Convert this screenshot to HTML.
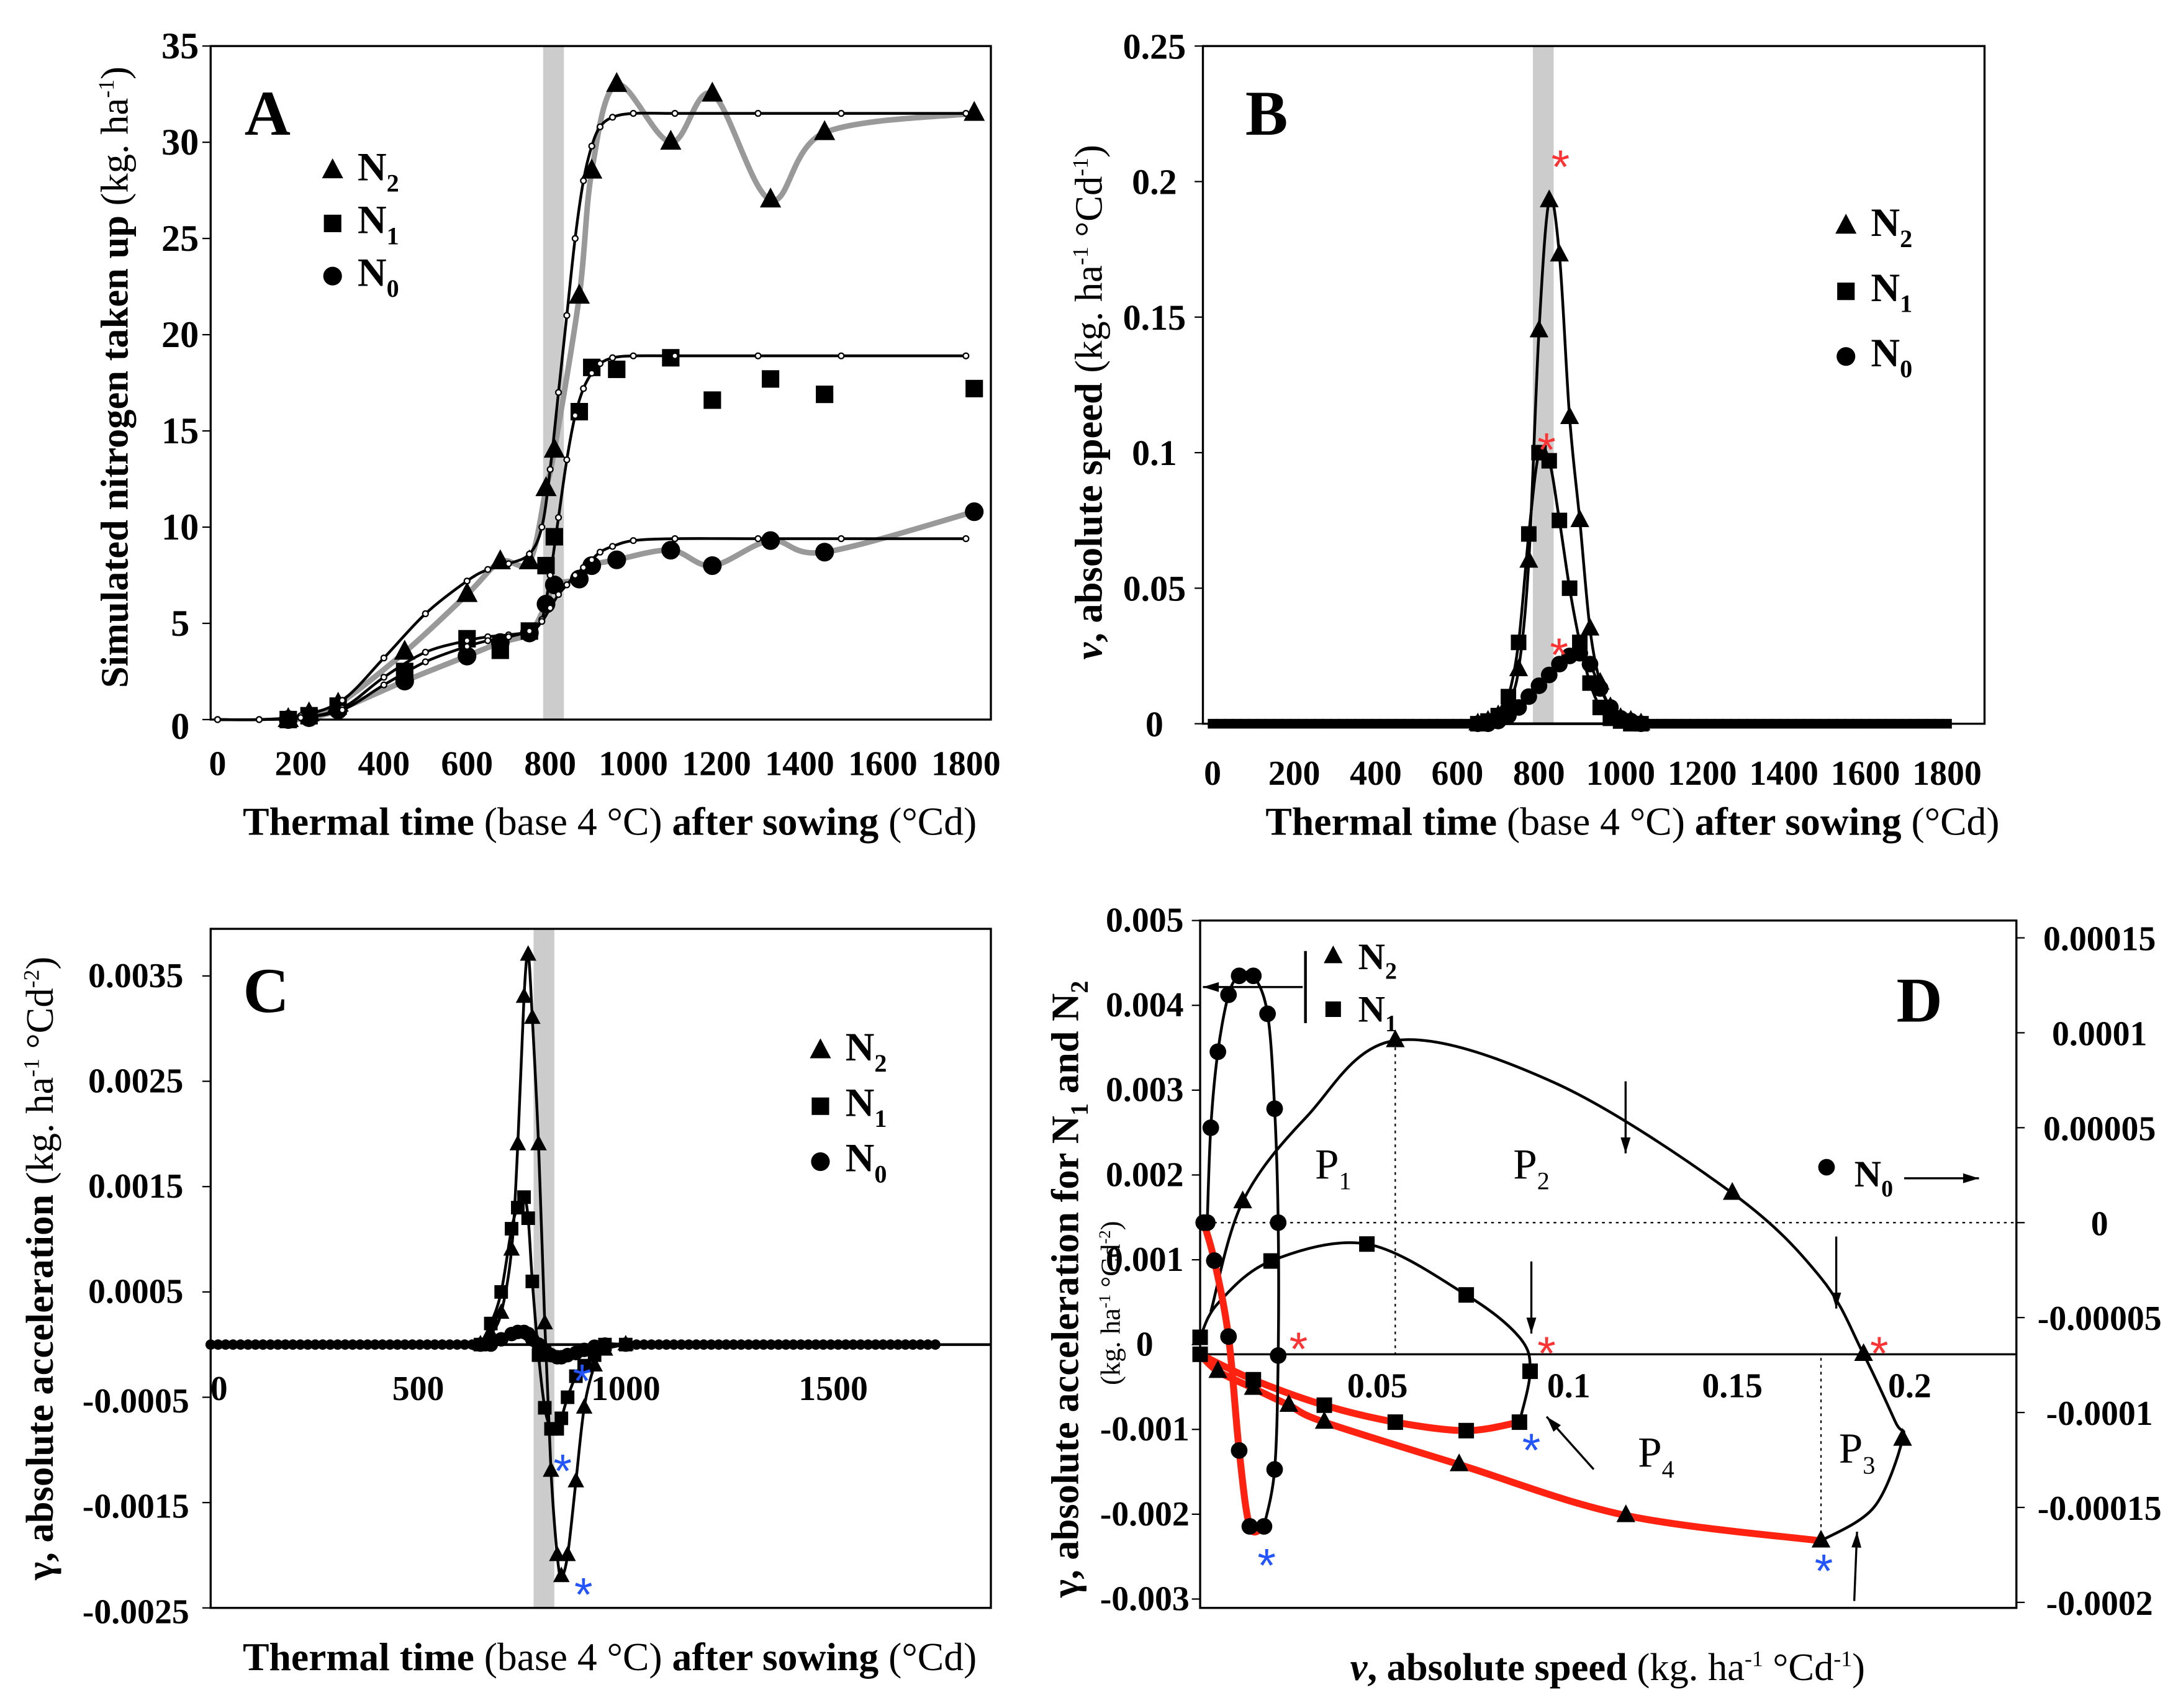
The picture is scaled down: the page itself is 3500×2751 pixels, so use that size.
<!DOCTYPE html>
<html><head><meta charset="utf-8"><style>
html,body{margin:0;padding:0;background:#fff}
svg{display:block}
text{font-family:"Liberation Serif",serif;font-weight:bold;fill:#000}
</style></head><body>
<svg id="fig" width="3500" height="2751" viewBox="0 0 1568 1232" xmlns="http://www.w3.org/2000/svg">
<g id="A"></g>
<g id="B"></g>
<g id="C"></g>
<g id="D"></g>
</svg>
<script>
// ---------- Panel A data ----------
const aObsT = [170,220,290,450,600,680,750,790,810,870,900,960,1090,1190,1330,1460,1820];
const aObsN2 = [0,0.3,0.8,3.5,6.5,8.2,8.2,12,14,22,28.5,33,30,32.5,27,30.5,31.5];
const aObsN1 = [0,0.2,0.7,2.5,4.2,3.6,4.6,8,9.5,16,18.3,18.2,18.8,16.6,17.7,16.9,17.2];
const aObsN0 = [0,0.1,0.5,2,3.3,4,4.5,6,7,7.3,8,8.3,8.8,8,9.3,8.7,10.8];
const aFitT = [0,100,200,300,400,500,600,650,700,750,780,800,820,840,860,880,900,920,950,1000,1100,1300,1500,1800];
const aFitN2 = [0,0,0.2,1,3.2,5.5,7.2,7.8,8.1,8.6,10,13,17,21,25,28,29.8,30.8,31.3,31.5,31.5,31.5,31.5,31.5];
const aFitN1 = [0,0,0.1,0.6,2.2,3.5,4.1,4.3,4.4,4.6,5.2,7.5,10.5,13.5,15.8,17.2,18,18.5,18.8,18.9,18.9,18.9,18.9,18.9];
const aFitN0 = [0,0,0.1,0.5,1.8,3,3.8,4.1,4.3,4.6,5.1,5.8,6.5,7,7.5,7.9,8.3,8.7,9.0,9.3,9.4,9.4,9.4,9.4];
const aYTicks = [0,5,10,15,20,25,30,35];
const aXTicks = [0,200,400,600,800,1000,1200,1400,1600,1800];
// ---------- Panel B data ----------
const bT = [650,675,700,725,750,775,800,825,850,875,900,925,950,975,1000,1025,1050];
const bN2 = [0,0.001,0.003,0.008,0.02,0.06,0.145,0.193,0.173,0.113,0.075,0.035,0.015,0.006,0.002,0.001,0];
const bN1 = [0,0.001,0.003,0.01,0.03,0.07,0.1,0.097,0.075,0.05,0.03,0.015,0.006,0.002,0.001,0,0];
const bN0 = [0,0,0.001,0.003,0.006,0.01,0.014,0.018,0.022,0.025,0.026,0.022,0.013,0.006,0.002,0.001,0];
const bYTicks = [0,0.05,0.1,0.15,0.2,0.25];
// ---------- Panel C data ----------
const cT = [650,675,700,725,740,755,765,775,790,805,820,835,845,860,880,900,925,950,1000];
const cN2 = [0,0.0001,0.0003,0.0009,0.0019,0.0033,0.0037,0.0031,0.0019,0.0002,-0.0012,-0.002,-0.0022,-0.002,-0.0013,-0.0006,-0.0002,-0.00005,0];
const cN1 = [0,0.0002,0.0005,0.0011,0.0013,0.0014,0.0012,0.0006,-0.0001,-0.0006,-0.0008,-0.0008,-0.0007,-0.0005,-0.0003,-0.0002,-0.0001,0,0];
const cN0 = [0,0,0.00005,0.0001,0.00012,0.00012,0.0001,0.00005,0,-0.00005,-0.0001,-0.00012,-0.00012,-0.0001,-0.00008,-0.00005,-0.00002,0,0];
const cYTicks = [0.0035,0.0025,0.0015,0.0005,-0.0005,-0.0015,-0.0025];
const cXTicks = [0,500,1000,1500];
// ---------- Panel D data ----------
const dN2v = [0.003,0.012,0.03,0.055,0.1,0.15,0.175,0.187,0.196,0.198,0.19,0.175];
const dN2a = [0.0005,0.0018,0.0028,0.0037,0.0032,0.0019,0.0009,0,-0.0008,-0.001,-0.0018,-0.0022];
const dN2m = [0,1,0,1,0,1,0,1,0,1,0,0];
const dN2rv = [0.175,0.12,0.073,0.035,0.025,0.015,0.005,0];
const dN2ra = [-0.0022,-0.0019,-0.0013,-0.0008,-0.0006,-0.0004,-0.0002,0];
const dN2rm = [1,1,1,1,1,1,1,0];
const dN1v = [0,0.005,0.02,0.047,0.075,0.09,0.093,0.09];
const dN1a = [0.0002,0.0006,0.0011,0.0013,0.0007,0.0002,-0.0002,-0.0008];
const dN1m = [1,0,1,1,1,0,1,1];
const dN1rv = [0.09,0.075,0.055,0.035,0.015,0];
const dN1ra = [-0.0008,-0.0009,-0.0008,-0.0006,-0.0003,0];
const dN1rm = [0,1,1,1,1,1];
const dN0v = [0.002,0.003,0.005,0.008,0.011,0.015,0.019,0.021,0.022,0.022,0.021,0.018];
const dN0a = [0,0.00005,0.00009,0.00012,0.00013,0.00013,0.00011,0.00006,0,-0.00007,-0.00013,-0.00016];
const dN0m = [1,1,1,1,1,1,1,1,1,1,1,1];
const dN0rv = [0.018,0.014,0.011,0.008,0.004,0.001];
const dN0ra = [-0.00016,-0.00016,-0.00012,-0.00006,-0.00002,0];
const dN0rm = [0,1,1,1,1,1];
const dXTicks = [0,0.05,0.1,0.15,0.2];
const dYTicks = [0.005,0.004,0.003,0.002,0.001,0,-0.001,-0.002,-0.003];
const dY2Ticks = [0.00015,0.0001,0.00005,0,-0.00005,-0.0001,-0.00015,-0.0002];

const NS="http://www.w3.org/2000/svg";
function el(parent,tag,attrs){const e=document.createElementNS(NS,tag);for(const k in attrs)e.setAttribute(k,attrs[k]);parent.appendChild(e);return e;}
function smooth(pts){let d=`M${pts[0][0]},${pts[0][1]}`;for(let i=0;i<pts.length-1;i++){const p0=pts[Math.max(0,i-1)],p1=pts[i],p2=pts[i+1],p3=pts[Math.min(pts.length-1,i+2)];const c1=[p1[0]+(p2[0]-p0[0])/6,p1[1]+(p2[1]-p0[1])/6],c2=[p2[0]-(p3[0]-p1[0])/6,p2[1]-(p3[1]-p1[1])/6];d+=`C${c1[0]},${c1[1]} ${c2[0]},${c2[1]} ${p2[0]},${p2[1]}`;}return d;}
function marker(g,type,x,y,s){let e;
 if(type==='tri'){e=el(g,'polygon',{points:`${x},${y-s} ${x-s*0.85},${y+s*0.6} ${x+s*0.85},${y+s*0.6}`,fill:'#000'});}
 else if(type==='sq'){e=el(g,'rect',{x:x-s*0.7,y:y-s*0.7,width:s*1.4,height:s*1.4,fill:'#000'});}
 else if(type==='dot'){e=el(g,'circle',{cx:x,cy:y,r:2,fill:'#fff',stroke:'#000','stroke-width':1});}
 else {e=el(g,'circle',{cx:x,cy:y,r:s*0.75,fill:'#000'});}
 return e;}
function txt(g,x,y,s,size,anchor,name){const t=el(g,'text',{x:x,y:y,'font-size':size,'text-anchor':anchor||'middle'});t.innerHTML=s;
 
 return t;}
function frame(g,x0,y0,x1,y1){const r=el(g,'rect',{x:x0,y:y0,width:x1-x0,height:y1-y0,fill:'none',stroke:'#000','stroke-width':1.5});
 
 }
function star(g,x,y,col){const t=el(g,'text',{x:x,y:y,'font-size':34,'text-anchor':'middle',style:`fill:${col};font-weight:normal;font-family:"Liberation Sans",sans-serif`});t.textContent='*';
 
 }
function legend(g,x,y,gap,name){const items=[['tri','N','2'],['sq','N','1'],['circ','N','0']];items.forEach((it,i)=>{marker(g,it[0],x,y+i*gap-7,9);
 txt(g,x+18,y+i*gap,`N<tspan font-size="18" dy="8">${it[2]}</tspan>`,29,'start',name+'-entry-'+it[2]);});}
function xtitle(g,cx,y){txt(g,cx,y,'Thermal time <tspan font-weight="normal">(base 4 °C)</tspan> after sowing <tspan font-weight="normal">(°Cd)</tspan>',28.5,'middle','x-axis-title');}

// ---------- Panel A ----------
(function(){const g=document.getElementById('A');
 const X=t=>157+t*0.3, Y=v=>519-v*13.886;
 el(g,'rect',{x:X(783),y:33,width:15,height:486,fill:'#ccc'});
 frame(g,152,33,715,519);
 aYTicks.forEach(v=>{el(g,'line',{x1:146,x2:152,y1:Y(v),y2:Y(v),stroke:'#000'});txt(g,130,Y(v)+(v==0?14:9),v,27,'middle','y-tick-label');});
 aXTicks.forEach(v=>txt(g,X(v),559,v,25,'middle','x-tick-label'));
 [[aObsN2,'#999'],[aObsN1,null],[aObsN0,'#999']].forEach(s=>{if(s[1])el(g,'path',{d:smooth(aObsT.map((t,i)=>[X(t),Y(s[0][i])])),fill:'none',stroke:s[1],'stroke-width':4});});
 [aFitN2,aFitN1,aFitN0].forEach(f=>{el(g,'path',{d:smooth(aFitT.map((t,i)=>[X(t),Y(f[i])])),fill:'none',stroke:'#000','stroke-width':2});});
 [[aObsN2,'tri'],[aObsN1,'sq'],[aObsN0,'circ']].forEach(s=>aObsT.forEach((t,i)=>{const m=marker(g,s[1],X(t),Y(s[0][i]),9);
  
  }));
 [aFitN2,aFitN1,aFitN0].forEach(f=>aFitT.forEach((t,i)=>marker(g,'dot',X(t),Y(f[i]),2)));
 txt(g,193,97,'A',46,'middle','panel-letter-a');
 legend(g,240,130,38,'legend-a');
 const yt=txt(g,0,0,'Simulated nitrogen taken up <tspan font-weight="normal">(kg. ha<tspan font-size="16" dy="-10">-1</tspan><tspan dy="10">)</tspan></tspan>',28,'middle','y-axis-title');yt.setAttribute('transform','translate(92,272) rotate(-90)');
 xtitle(g,440,602);
})();
// ---------- Panel B ----------
(function(){const g=document.getElementById('B');
 const X=t=>875+t*0.2944, Y=v=>522-v*1956;
 el(g,'rect',{x:X(785),y:33,width:15,height:489,fill:'#ccc'});
 frame(g,868,33,1432,522);
 bYTicks.forEach(v=>{el(g,'line',{x1:862,x2:868,y1:Y(v),y2:Y(v),stroke:'#000'});txt(g,833,Y(v)+9,v,26,'middle','y-tick-label');});
 aXTicks.forEach(v=>txt(g,X(v),566,v,25,'middle','x-tick-label'));
 el(g,'line',{x1:X(0),x2:X(1800),y1:Y(0),y2:Y(0),stroke:'#000','stroke-width':2});
 const zeros=[];for(let t=0;t<=1800;t+=20){if(t<650||t>1050)zeros.push(t);}
 zeros.forEach(t=>marker(g,'sq',X(t),Y(0),5));
 [[bN2,'tri'],[bN1,'sq'],[bN0,'circ']].forEach(s=>{el(g,'path',{d:smooth(bT.map((t,i)=>[X(t),Y(s[0][i])])),fill:'none',stroke:'#000','stroke-width':2});
  bT.forEach((t,i)=>{const m=marker(g,s[1],X(t),Y(s[0][i]),8);
   
   });});
 star(g,1126,132,'#f33');star(g,1116,336,'#f33');star(g,1125,484,'#f33');
 txt(g,914,97,'B',46,'middle','panel-letter-b');
 legend(g,1332,170,47,'legend-b');
 const yt=txt(g,0,0,'<tspan font-style="italic">v</tspan>, absolute speed <tspan font-weight="normal">(kg. ha<tspan font-size="16" dy="-10">-1</tspan><tspan dy="10"> °Cd</tspan><tspan font-size="16" dy="-10">-1</tspan><tspan dy="10">)</tspan></tspan>',28,'middle','y-axis-title');yt.setAttribute('transform','translate(795,290) rotate(-90)');
 xtitle(g,1178,602);
})();
// ---------- Panel C ----------
(function(){const g=document.getElementById('C');
 const X=t=>152+t*0.2995, Y=v=>970-v*76000;
 el(g,'rect',{x:X(778),y:670,width:15,height:490,fill:'#ccc'});
 frame(g,152,670,715,1160);
 cYTicks.forEach(v=>{el(g,'line',{x1:146,x2:152,y1:Y(v),y2:Y(v),stroke:'#000'});txt(g,98,Y(v)+8-(v>0?0:-3),v,25,'middle','y-tick-label');});
 cXTicks.forEach(v=>txt(g,X(v)+(v==0?6:0),1010,v,25,'middle','x-tick-label'));
 el(g,'line',{x1:152,x2:715,y1:Y(0),y2:Y(0),stroke:'#000','stroke-width':2});
 const zeros=[];for(let t=0;t<=1760;t+=18){if(t<650||t>1000)zeros.push(t);}
 zeros.forEach(t=>marker(g,'circ',X(t),Y(0),5));
 [[cN2,'tri'],[cN1,'sq'],[cN0,'circ']].forEach(s=>{el(g,'path',{d:smooth(cT.map((t,i)=>[X(t),Y(s[0][i])])),fill:'none',stroke:'#000','stroke-width':2});
  cT.forEach((t,i)=>{const m=marker(g,s[1],X(t),Y(s[0][i]),7);
   
   });});
 star(g,420,1008,'#25f');star(g,406,1073,'#25f');star(g,421,1162,'#25f');
 txt(g,192,730,'C',46,'middle','panel-letter-c');
 legend(g,592,765,40,'legend-c');
 const yt=txt(g,0,0,'γ, absolute acceleration <tspan font-weight="normal">(kg. ha<tspan font-size="16" dy="-10">-1</tspan><tspan dy="10"> °Cd</tspan><tspan font-size="16" dy="-10">-2</tspan><tspan dy="10">)</tspan></tspan>',28,'middle','y-axis-title');yt.setAttribute('transform','translate(38,915) rotate(-90)');
 xtitle(g,440,1205);
})();
// ---------- Panel D ----------
(function(){const g=document.getElementById('D');
 const X=v=>866+v*2560, Y=a=>977-a*61.2e3, Y2=a=>882-a*1.37e6;
 frame(g,866,664,1455,1160);
 el(g,'line',{x1:866,x2:1455,y1:977,y2:977,stroke:'#000','stroke-width':1.5});
 el(g,'line',{x1:866,x2:1455,y1:882,y2:882,stroke:'#000','stroke-dasharray':'2,3'});
 dXTicks.forEach(v=>{if(v>0)txt(g,X(v)+(v==0.1?10:0),1008,v,25,'middle','x-tick-label');});
 dYTicks.forEach(v=>{el(g,'line',{x1:860,x2:866,y1:Y(v)-7,y2:Y(v)-7,stroke:'#000'});txt(g,826,Y(v)+1,v,25,'middle','y-tick-label');});
 dY2Ticks.forEach(v=>{el(g,'line',{x1:1455,x2:1461,y1:Y2(v),y2:Y2(v),stroke:'#000'});txt(g,1515,Y2(v)+9,v,25,'middle','y2-tick-label');});
 el(g,'line',{x1:X(0.055),x2:X(0.055),y1:Y(0.0037),y2:977,stroke:'#000','stroke-dasharray':'2,3'});
 el(g,'line',{x1:X(0.175),x2:X(0.175),y1:Y(-0.0022),y2:977,stroke:'#000','stroke-dasharray':'2,3'});
 const series=[[dN2v,dN2a,Y,'#000','tri',dN2m],[dN2rv,dN2ra,Y,'#f21','tri',dN2rm],[dN1v,dN1a,Y,'#000','sq',dN1m],[dN1rv,dN1ra,Y,'#f21','sq',dN1rm],[dN0v,dN0a,Y2,'#000','circ',dN0m],[dN0rv,dN0ra,Y2,'#f21','circ',dN0rm]];
 series.forEach(s=>{el(g,'path',{d:smooth(s[0].map((v,i)=>[X(v),s[2](s[1][i])])),fill:'none',stroke:s[3],'stroke-width':s[3]=='#000'?2:5});});
 series.forEach(s=>s[0].forEach((v,i)=>{if(!s[5][i])return;const m=marker(g,s[4],X(v),s[2](s[1][i]),8);
  
  }));
 star(g,937,985,'#f33');star(g,1116,988,'#f33');star(g,1356,988,'#f33');
 star(g,914,1141,'#25f');star(g,1105,1058,'#25f');star(g,1316,1145,'#25f');
 txt(g,1385,737,'D',46,'middle','panel-letter-d');
 [['1',962,850],['2',1105,850],['3',1340,1055],['4',1195,1058]].forEach(p=>txt(g,p[1],p[2],`<tspan font-weight="normal">P<tspan font-size="18" dy="8">${p[0]}</tspan></tspan>`,31,'middle','phase-label-p'+p[0]));
 const arr=(x1,y1,x2,y2)=>{el(g,'line',{x1:x1,y1:y1,x2:x2,y2:y2,stroke:'#000','stroke-width':1.5});const a=Math.atan2(y2-y1,x2-x1),L=12;el(g,'polygon',{points:`${x2},${y2} ${x2-L*Math.cos(a-0.3)},${y2-L*Math.sin(a-0.3)} ${x2-L*Math.cos(a+0.3)},${y2-L*Math.sin(a+0.3)}`,fill:'#000'});};
 arr(1173,780,1173,832);arr(1105,910,1105,962);arr(1325,892,1325,944);arr(1150,1060,1116,1022);arr(1338,1155,1340,1105);
 el(g,'line',{x1:942,x2:942,y1:686,y2:738,stroke:'#000','stroke-width':2});
 arr(940,712,868,712);
 marker(g,'tri',962,690,8);txt(g,980,699,'N<tspan font-size="17" dy="7">2</tspan>',27,'start','legend-d-n2');
 marker(g,'sq',962,728,8);txt(g,980,737,'N<tspan font-size="17" dy="7">1</tspan>',27,'start','legend-d-n1');
 marker(g,'circ',1318,842,8);txt(g,1338,856,'N<tspan font-size="17" dy="7">0</tspan>',27,'start','legend-d-n0');
 arr(1374,850,1428,850);
 const yt=txt(g,0,0,'γ, absolute acceleration for N<tspan font-size="18" dy="7">1</tspan><tspan dy="-7"> and N</tspan><tspan font-size="18" dy="7">2</tspan>',28,'middle','y-axis-title');yt.setAttribute('transform','translate(778,930) rotate(-90)');
 const yt2=txt(g,0,0,'<tspan font-weight="normal">(kg. ha<tspan font-size="12" dy="-7">-1</tspan><tspan dy="7"> °Cd</tspan><tspan font-size="12" dy="-7">-2</tspan><tspan dy="7">)</tspan></tspan>',20,'middle','y-axis-units');yt2.setAttribute('transform','translate(808,940) rotate(-90)');
 txt(g,1160,1212,'<tspan font-style="italic">v</tspan>, absolute speed <tspan font-weight="normal">(kg. ha<tspan font-size="16" dy="-10">-1</tspan><tspan dy="10"> °Cd</tspan><tspan font-size="16" dy="-10">-1</tspan><tspan dy="10">)</tspan></tspan>',28,'middle','x-axis-title');
})();
</script>
</body></html>
